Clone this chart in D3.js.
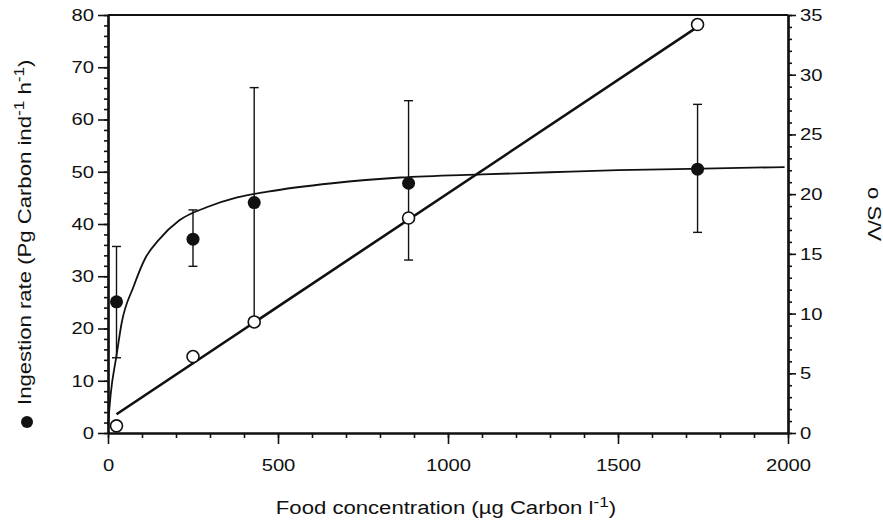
<!DOCTYPE html>
<html>
<head>
<meta charset="utf-8">
<script src="https://cdn.jsdelivr.net/npm/d3@7"></script>
<style>
  html, body { margin: 0; padding: 0; background: #fff; }
  svg { display: block; }
  text { font-family: "Liberation Sans", Arial, Helvetica, sans-serif; fill: #111; }
</style>
</head>
<body>
<svg id="chart" width="883" height="524"></svg>
<script>
// Food concentration of each feeding trial (µg Carbon l-1)
const foodConc = [25, 250, 430, 884, 1734];
// Ingestion rate (Pg Carbon ind-1 h-1), mean and error-bar limits
const ingestion = [25.1, 37.1, 44.1, 47.8, 50.5];
const ingestionHigh = [35.7, 42.7, 66.1, 63.6, 62.9];
const ingestionLow = [14.4, 31.9, 22.0, 33.1, 38.4];
// S/V ratio at each concentration (right axis)
const svRatio = [0.6, 6.4, 9.3, 18.0, 34.2];

// Saturating fit of ingestion rate, sampled along the food axis
const fitConc = [0, 8, 25, 40, 75, 110, 150, 210, 290, 380, 470, 660, 860, 1100, 1300, 1500, 1750, 1990];
const fitIngestion = [1.5, 7.5, 14.8, 21.0, 28.0, 33.5, 37.0, 40.7, 43.2, 45.1, 46.2, 47.8, 48.9, 49.5, 49.9, 50.3, 50.6, 50.9];
// Linear fit of S/V, end points
const svFitConc = [25, 1734];
const svFitValue = [1.57, 34.0];

// Axis ticks
const xMajor = [0, 500, 1000, 1500, 2000];
const leftMajor = [0, 10, 20, 30, 40, 50, 60, 70, 80];
const rightMajor = [0, 5, 10, 15, 20, 25, 30, 35];

const svg = d3.select("#chart");

const x = d3.scaleLinear().domain([0, 2000]).range([108, 788]);
const yL = d3.scaleLinear().domain([0, 80]).range([433, 15]);
const yR = d3.scaleLinear().domain([0, 35]).range([433, 15]);

// the lettering is a wide grotesque: Liberation Sans stretched horizontally
const tickFont = 17;
const tickStretch = 1.19;
const titleFont = 18;
const titleStretch = 1.23;

function styleAxis(g, width) {
  g.select(".domain").attr("stroke", "#111").attr("stroke-width", width);
  g.selectAll(".tick line").attr("stroke", "#111").attr("stroke-width", 1.6);
}
function styleLabels(g) {
  g.selectAll(".tick text").each(function () {
    const t = d3.select(this);
    const tx = +t.attr("x") || 0;
    t.attr("x", 0)
      .attr("transform", `translate(${tx},0) scale(${tickStretch},1)`)
      .attr("font-size", tickFont)
      .attr("fill", "#111");
  });
}

// bottom: minor every 100, major every 500
svg.append("g")
  .attr("transform", `translate(0,${yL(0)})`)
  .call(d3.axisBottom(x).tickValues(d3.range(0, 2001, 100)).tickSize(5).tickSizeOuter(0).tickFormat(""))
  .call(g => styleAxis(g, 2.2));
svg.append("g")
  .attr("transform", `translate(0,${yL(0)})`)
  .call(d3.axisBottom(x).tickValues(xMajor).tickSize(11).tickSizeOuter(0).tickPadding(15).tickFormat(d3.format("d")))
  .call(g => styleAxis(g, 2.2))
  .call(styleLabels);

// left: minor every 2, major every 10
svg.append("g")
  .attr("transform", `translate(${x(0)},0)`)
  .call(d3.axisLeft(yL).tickValues(d3.range(0, 81, 2)).tickSize(4).tickSizeOuter(0).tickFormat(""))
  .call(g => styleAxis(g, 2.2));
svg.append("g")
  .attr("transform", `translate(${x(0)},0)`)
  .call(d3.axisLeft(yL).tickValues(leftMajor).tickSize(10).tickSizeOuter(0).tickPadding(4).tickFormat(d3.format("d")))
  .call(g => styleAxis(g, 2.2))
  .call(styleLabels);

// right: minor every 1, major every 5
svg.append("g")
  .attr("transform", `translate(${x(2000)},0)`)
  .call(d3.axisRight(yR).tickValues(d3.range(0, 36, 1)).tickSize(4).tickSizeOuter(0).tickFormat(""))
  .call(g => styleAxis(g, 2.2));
svg.append("g")
  .attr("transform", `translate(${x(2000)},0)`)
  .call(d3.axisRight(yR).tickValues(rightMajor).tickSize(8).tickSizeOuter(0).tickPadding(4).tickFormat(d3.format("d")))
  .call(g => styleAxis(g, 2.2))
  .call(styleLabels);

// top frame
svg.append("line")
  .attr("x1", x(0)).attr("x2", x(2000))
  .attr("y1", yL(80)).attr("y2", yL(80))
  .attr("stroke", "#111").attr("stroke-width", 2.2);

// ---- axis titles ----
const xTitle = svg.append("text")
  .attr("transform", `translate(446,514) scale(${titleStretch},1)`)
  .attr("text-anchor", "middle")
  .attr("font-size", titleFont);
xTitle.append("tspan").text("Food concentration (\u00b5g Carbon l");
xTitle.append("tspan").attr("dy", -7).attr("font-size", 14).text("-1");
xTitle.append("tspan").attr("dy", 7).text(")");

// left title, reading upwards, with its filled-circle key below it
const yTitle = svg.append("text")
  .attr("transform", `translate(31,405) rotate(-90) scale(${titleStretch},1)`)
  .attr("text-anchor", "start")
  .attr("font-size", titleFont);
yTitle.append("tspan").text("Ingestion rate (Pg Carbon ind");
yTitle.append("tspan").attr("dy", -7).attr("font-size", 14).text("-1");
yTitle.append("tspan").attr("dy", 7).text(" h");
yTitle.append("tspan").attr("dy", -7).attr("font-size", 14).text("-1");
yTitle.append("tspan").attr("dy", 7).text(")");
svg.append("circle").attr("cx", 27).attr("cy", 422).attr("r", 6).attr("fill", "#111");

// right title, reading downwards
svg.append("text")
  .attr("transform", `translate(868,214) rotate(90) scale(${titleStretch},1)`)
  .attr("text-anchor", "middle")
  .attr("font-size", titleFont)
  .text("o S/V");

// ---- marks ----
const pts = foodConc.map((c, i) => ({
  c, ing: ingestion[i], hi: ingestionHigh[i], lo: ingestionLow[i], sv: svRatio[i]
}));

// error bars
const eb = svg.append("g").attr("stroke", "#111").attr("stroke-width", 1.4);
pts.forEach(d => {
  eb.append("line").attr("x1", x(d.c)).attr("x2", x(d.c)).attr("y1", yL(d.lo)).attr("y2", yL(d.hi));
  [d.lo, d.hi].forEach(v => {
    eb.append("line").attr("x1", x(d.c) - 4.5).attr("x2", x(d.c) + 4.5).attr("y1", yL(v)).attr("y2", yL(v));
  });
});

// saturating fit curve
const fitData = fitConc.map((c, i) => [c, fitIngestion[i]]);
svg.append("path")
  .datum(fitData)
  .attr("fill", "none").attr("stroke", "#111").attr("stroke-width", 1.8)
  .attr("d", d3.line().x(d => x(d[0])).y(d => yL(d[1])).curve(d3.curveMonotoneX));

// S/V linear fit
const svFit = svFitConc.map((c, i) => [c, svFitValue[i]]);
svg.append("path")
  .datum(svFit)
  .attr("fill", "none").attr("stroke", "#111").attr("stroke-width", 2.6)
  .attr("d", d3.line().x(d => x(d[0])).y(d => yR(d[1])));

// open circles: S/V
svg.append("g").selectAll("circle").data(pts).join("circle")
  .attr("cx", d => x(d.c)).attr("cy", d => yR(d.sv)).attr("r", 6)
  .attr("fill", "#fff").attr("stroke", "#111").attr("stroke-width", 1.6);

// filled circles: ingestion rate
svg.append("g").selectAll("circle").data(pts).join("circle")
  .attr("cx", d => x(d.c)).attr("cy", d => yL(d.ing)).attr("r", 6.5)
  .attr("fill", "#111");
</script>
</body>
</html>
